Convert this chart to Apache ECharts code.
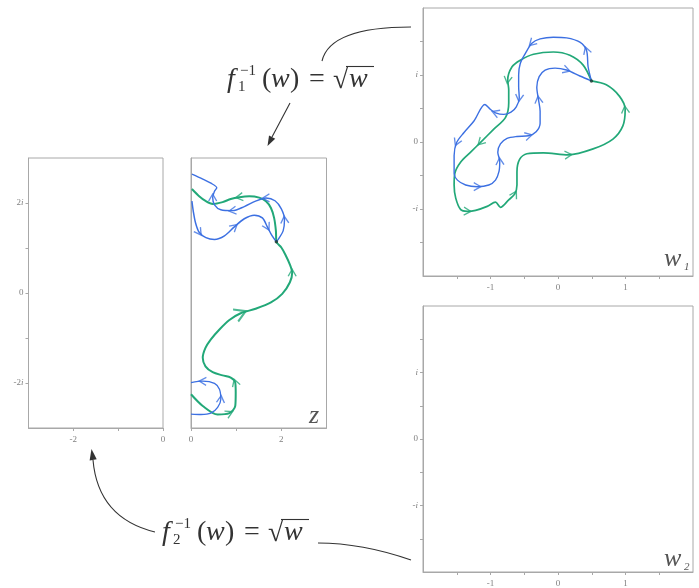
<!DOCTYPE html>
<html><head><meta charset="utf-8">
<script src="https://cdn.jsdelivr.net/npm/echarts@6/dist/echarts.min.js"></script>
<style>html,body{margin:0;padding:0;background:#fff}#c{width:699px;height:588px}</style>
</head><body><div id="c"></div>
<script>
// ---- data (complex-plane coordinates: [re, im]) ----
const wGreen = [[0.495,0.912],[0.373,1.147],[0.176,1.294],[-0.069,1.343],[-0.363,1.309],[-0.559,1.221],[-0.681,1.123],[-0.745,0.926],[-0.730,0.779],[-0.730,0.583],[-0.779,0.363],[-0.951,0.191],[-1.147,-0.005],[-1.294,-0.152],[-1.441,-0.299],[-1.529,-0.471],[-1.539,-0.642],[-1.515,-0.838],[-1.441,-1.010],[-1.343,-1.034],[-1.221,-1.020],[-1.049,-0.961],[-0.926,-0.897],[-0.853,-0.975],[-0.730,-0.863],[-0.642,-0.779],[-0.608,-0.642],[-0.608,-0.446],[-0.569,-0.260],[-0.461,-0.176],[-0.216,-0.162],[0.152,-0.191],[0.520,-0.103],[0.814,0.044],[0.961,0.240],[0.995,0.485],[0.912,0.681],[0.716,0.853],[0.495,0.912]];
const wGreenArrowAt = [7,12,19,25,31,35];
const wBlue = [[0.495,0.912],[0.446,1.123],[0.422,1.368],[0.324,1.490],[0.127,1.554],[-0.069,1.564],[-0.265,1.539],[-0.387,1.475],[-0.485,1.319],[-0.559,1.172],[-0.583,1.000],[-0.583,0.828],[-0.574,0.657],[-0.618,0.525],[-0.696,0.446],[-0.804,0.412],[-0.926,0.436],[-1.000,0.485],[-1.083,0.559],[-1.245,0.314],[-1.392,0.142],[-1.500,-0.005],[-1.539,-0.201],[-1.539,-0.471],[-1.490,-0.569],[-1.368,-0.642],[-1.196,-0.667],[-1.025,-0.642],[-0.926,-0.569],[-0.873,-0.436],[-0.863,-0.289],[-0.892,-0.152],[-0.853,-0.029],[-0.755,0.054],[-0.608,0.083],[-0.436,0.093],[-0.324,0.152],[-0.265,0.279],[-0.265,0.461],[-0.289,0.632],[-0.314,0.819],[-0.279,0.975],[-0.191,1.074],[-0.044,1.103],[0.127,1.074],[0.324,0.985],[0.495,0.912]];
const wBlueArrowAt = [2,7,12,16,21,26,30,35,39,44];
const zGreen = [[0.0,-2.25],[0.26,-2.51],[0.59,-2.70],[0.85,-2.67],[0.98,-2.51],[0.99,-2.21],[0.98,-1.99],[0.88,-1.88],[0.70,-1.83],[0.48,-1.76],[0.32,-1.63],[0.26,-1.44],[0.32,-1.22],[0.44,-1.03],[0.63,-0.81],[0.85,-0.60],[1.10,-0.45],[1.43,-0.35],[1.77,-0.21],[2.02,-0.02],[2.19,0.24],[2.24,0.45],[2.19,0.63],[2.09,0.85],[2.00,1.01],[1.89,1.14],[1.88,1.38],[1.84,1.67],[1.77,1.89],[1.66,2.04],[1.51,2.12],[1.29,2.15],[1.07,2.13],[0.88,2.09],[0.70,2.02],[0.48,1.98],[0.33,2.04],[0.18,2.15],[0.02,2.31]];
const zGreenArrowAt = [3,6,21,32];
const zGreenBigArrowAt = [16];
const zBlueTop = [[1.89,1.14],[1.95,1.22],[2.04,1.38],[2.07,1.63],[2.00,1.87],[1.86,2.05],[1.66,2.11],[1.43,2.04],[1.18,1.92],[0.92,1.83],[0.66,1.85],[0.52,1.96],[0.48,2.12],[0.52,2.26],[0.57,2.34],[0.44,2.44],[0.26,2.53],[0.02,2.64]];
const zBlueTopArrowAt = [3,6,9,12];
const zBlueLow = [[0.02,2.04],[0.05,1.82],[0.10,1.56],[0.18,1.35],[0.33,1.23],[0.52,1.19],[0.74,1.27],[0.96,1.47],[1.18,1.65],[1.40,1.73],[1.58,1.67],[1.69,1.47],[1.79,1.28],[1.89,1.14]];
const zBlueLowArrowAt = [3,7,11];
const zBlueBottom = [[0.0,-2.69],[0.22,-2.70],[0.44,-2.67],[0.59,-2.54],[0.66,-2.36],[0.63,-2.14],[0.52,-2.01],[0.26,-1.96],[0.0,-1.99]];
const zBlueBottomArrowAt = [4,7];

const zLeftXTicks = [-2,-1,0], zLeftXLabels = [-2,0];
const zRightXTicks = [0,1,2], zRightXLabels = [0,2];
const zYTicks = [-2,-1,0,1,2], zYLabels = [-2,0,2];
const wTicks = [-1.5,-1,-0.5,0,0.5,1,1.5], wLabels = [-1,0,1];

// ---- styling ----
const GREEN = '#22a878', BLUE = '#3c70e2';
const AX = '#a8a8a8', LAB = '#808080', SERIF = '"Liberation Serif","DejaVu Serif",serif';

const chart = echarts.init(document.getElementById('c'), null, {renderer:'canvas'});

function imagFmt(v){ if (v===0) return '0'; const c = Math.abs(v)===1 ? '' : String(Math.abs(v)); return (v<0?'-':'') + c + '{i|i}'; }
const labelBase = {color:LAB, fontFamily:SERIF, fontSize:9, rich:{i:{fontStyle:'italic', fontFamily:SERIF, fontSize:9, color:LAB}}};

function xAx(grid, min, max, ticks, labels){
  return {type:'value', gridIndex:grid, min, max, splitLine:{show:false},
    axisLine:{show:true, onZero:false, lineStyle:{color:AX, width:1}},
    axisTick:{show:true, length:3, customValues:ticks, lineStyle:{color:AX}},
    axisLabel:Object.assign({show:true, margin:7, customValues:labels, formatter:v=>String(v)}, labelBase)};
}
function yAx(grid, min, max, ticks, labels){
  return {type:'value', gridIndex:grid, min, max, splitLine:{show:false},
    axisLine:{show:true, onZero:false, lineStyle:{color:AX, width:1}},
    axisTick:{show:!!ticks, length:3, customValues:ticks||[], lineStyle:{color:AX}},
    axisLabel:Object.assign({show:!!labels, margin:5, customValues:labels||[], formatter:imagFmt}, labelBase)};
}
function curve(data, g, color, width){
  return {type:'line', xAxisIndex:g, yAxisIndex:g, data, smooth:0.3, symbol:'none', showSymbol:false,
    lineStyle:{color, width}, silent:true, z:3};
}
function arrows(data, idx, g, color, size, bw){
  return {type:'scatter', xAxisIndex:g, yAxisIndex:g, symbol:'path://M0,10 L5,0 L10,10',
    symbolSize:size||[8,7], silent:true, z:4,
    itemStyle:{color:'rgba(0,0,0,0)', borderColor:color, borderWidth:bw||1.3},
    data: idx.map(i=>{
      const a = data[Math.max(i-1,0)], b = data[Math.min(i+1,data.length-1)];
      const th = Math.atan2(b[1]-a[1], b[0]-a[0])*180/Math.PI;
      return {value:data[i], symbolRotate: th-90};
    })};
}
function dots(pts, g){
  return {type:'scatter', xAxisIndex:g, yAxisIndex:g, symbolSize:3.5, silent:true, z:5,
    itemStyle:{color:'#1c3a2c'}, data:pts};
}

// formula graphic builder
function formula(ox, oy, sub){
  const T = (x,y,t,fs,it)=>({type:'text', x:ox+x, y:oy+y, silent:true,
    style:{text:t, fill:'#333', font:(it?'italic ':'')+fs+'px '+SERIF, align:'left', verticalAlign:'middle'}});
  return [
    T(0,14,'f',28,true),
    T(13,5,'\u22121',15,false),
    T(11,21,sub,15,false),
    T(35,14,'(',28,false),
    T(44,14,'w',28,true),
    T(63,14,')',28,false),
    T(82,14,'=',28,false),
    T(106,15,'\u221A',28,false),
    T(122,14,'w',28,true),
    {type:'line', silent:true, shape:{x1:ox+119, y1:oy+0.5, x2:ox+147, y2:oy+0.5}, style:{stroke:'#333', lineWidth:1.1}}
  ];
}
function arrowHead(tx,ty,fx,fy,len,hw){
  const dx=tx-fx, dy=ty-fy, L=Math.hypot(dx,dy), ux=dx/L, uy=dy/L;
  const bx=tx-len*ux, by=ty-len*uy, px=-uy, py=ux;
  return {type:'polygon', silent:true, shape:{points:[[tx,ty],[bx+hw*px,by+hw*py],[bx-hw*px,by-hw*py]]}, style:{fill:'#333'}};
}
function panelLabel(x,y,main,sub){
  const els=[{type:'text', x, y, silent:true, style:{text:main, fill:'#555', font:'italic 26px '+SERIF, align:'left', verticalAlign:'middle'}}];
  if (sub) els.push({type:'text', x:x+20, y:y+8, silent:true, style:{text:sub, fill:'#555', font:'italic 11px '+SERIF, align:'left', verticalAlign:'middle'}});
  return els;
}

const graphics = [].concat(
  formula(227, 66, '1'),
  formula(162, 519, '2'),
  [
    {type:'bezierCurve', silent:true, shape:{x1:411,y1:27,x2:322,y2:61,cpx1:330,cpy1:27}, style:{stroke:'#333', lineWidth:1.1, fill:null}},
    {type:'line', silent:true, shape:{x1:290,y1:103,x2:272,y2:137}, style:{stroke:'#333', lineWidth:1.1}},
    arrowHead(267.5,146,290,103,10,3.5),
    {type:'bezierCurve', silent:true, shape:{x1:155,y1:532,x2:93,y2:460,cpx1:98,cpy1:518}, style:{stroke:'#333', lineWidth:1.1, fill:null}},
    arrowHead(91.5,449,93.5,462,11,3.6),
    {type:'bezierCurve', silent:true, shape:{x1:318,y1:543,x2:411,y2:560,cpx1:362,cpy1:543}, style:{stroke:'#333', lineWidth:1.1, fill:null}}
  ],
  panelLabel(664,259,'w','1'),
  panelLabel(664,559,'w','2'),
  [{type:'text', x:309, y:416, silent:true, style:{text:'z', fill:'#555', font:'italic 26px '+SERIF, align:'left', verticalAlign:'middle'}}]
);

const option = {
  animation:false,
  backgroundColor:'#fff',
  grid:[
    {left:28.5, top:158, width:134.5, height:270, show:true, borderColor:AX, borderWidth:1, containLabel:false},
    {left:191, top:158, width:135.5, height:270, show:true, borderColor:AX, borderWidth:1, containLabel:false},
    {left:423, top:8, width:270, height:268, show:true, borderColor:AX, borderWidth:1, containLabel:false},
    {left:423, top:306, width:270, height:270, show:true, borderColor:AX, borderWidth:1, containLabel:false}
  ],
  xAxis:[
    xAx(0,-3,0,zLeftXTicks,zLeftXLabels),
    xAx(1,0,3,zRightXTicks,zRightXLabels),
    xAx(2,-2,2,wTicks,wLabels),
    xAx(3,-2,2,wTicks,wLabels)
  ],
  yAxis:[
    yAx(0,-3,3,zYTicks,zYLabels),
    yAx(1,-3,3,null,null),
    yAx(2,-2,2,wTicks,wLabels),
    yAx(3,-2,2,wTicks,wLabels)
  ],
  series:[
    curve(wGreen,2,GREEN,1.7),
    curve(wBlue,2,BLUE,1.4),
    arrows(wGreen,wGreenArrowAt,2,GREEN),
    arrows(wBlue,wBlueArrowAt,2,BLUE),
    curve(zGreen,1,GREEN,2),
    curve(zBlueTop,1,BLUE,1.4),
    curve(zBlueLow,1,BLUE,1.5),
    curve(zBlueBottom,1,BLUE,1.3),
    arrows(zGreen,zGreenArrowAt,1,GREEN),
    arrows(zGreen,zGreenBigArrowAt,1,GREEN,[13,11],2),
    arrows(zBlueTop,zBlueTopArrowAt,1,BLUE),
    arrows(zBlueLow,zBlueLowArrowAt,1,BLUE),
    arrows(zBlueBottom,zBlueBottomArrowAt,1,BLUE),
    dots([wGreen[0]],2),
    dots([zBlueLow[zBlueLow.length-1]],1)
  ],
  graphic:graphics
};
chart.setOption(option);
</script>
</body></html>
